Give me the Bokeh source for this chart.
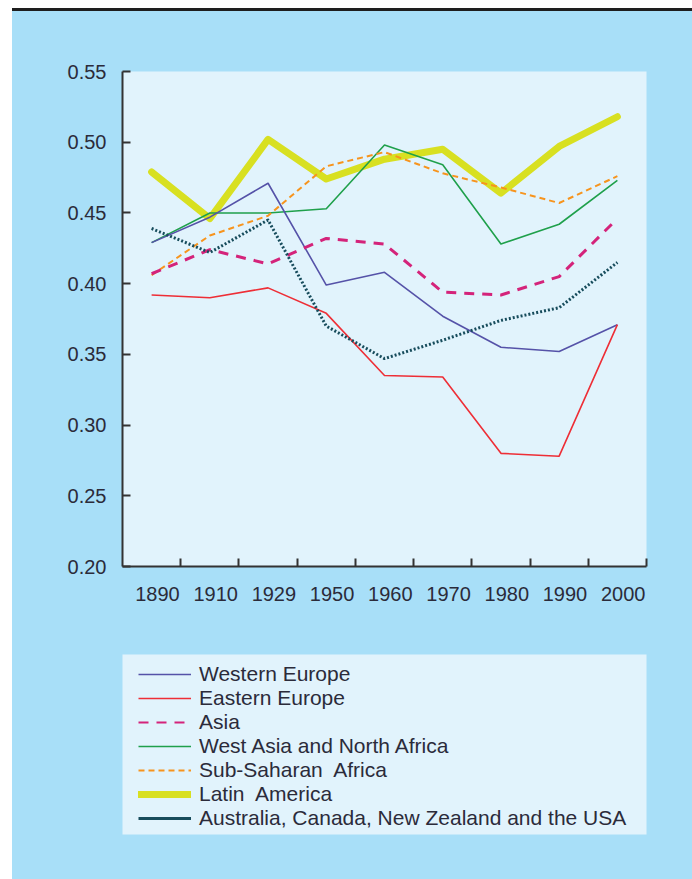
from bokeh.plotting import figure
from bokeh.models import (Range1d, LinearAxis, FixedTicker, CustomJSTickFormatter,
                          NumeralTickFormatter, Legend, LegendItem, Div)
from bokeh.layouts import column
from bokeh.embed import file_html
from bokeh.resources import INLINE

# ---------------- data ----------------
years = ["1890", "1910", "1929", "1950", "1960", "1970", "1980", "1990", "2000"]
western_europe = [0.429, 0.447, 0.471, 0.399, 0.408, 0.377, 0.355, 0.352, 0.371]
eastern_europe = [0.392, 0.390, 0.397, 0.379, 0.335, 0.334, 0.280, 0.278, 0.371]
asia = [0.407, 0.424, 0.414, 0.432, 0.428, 0.394, 0.392, 0.405, 0.446]
west_asia_north_africa = [0.429, 0.450, 0.450, 0.453, 0.498, 0.484, 0.428, 0.442, 0.473]
sub_saharan_africa = [0.406, 0.434, 0.448, 0.483, 0.493, 0.478, 0.468, 0.457, 0.476]
latin_america = [0.479, 0.446, 0.502, 0.474, 0.488, 0.495, 0.464, 0.497, 0.518]
aus_can_nz_usa = [0.439, 0.422, 0.445, 0.370, 0.347, 0.360, 0.374, 0.383, 0.415]
y_ticks = [0.20, 0.25, 0.30, 0.35, 0.40, 0.45, 0.50, 0.55]

names = ["Western Europe", "Eastern Europe", "Asia", "West Asia and North Africa",
         "Sub-Saharan  Africa", "Latin  America", "Australia, Canada, New Zealand and the USA"]

# ---------------- style ----------------
BLUE = "#a8dff8"
LIGHT = "#e1f3fc"
TEXT = "#2b2b3a"
AXIS = "#333333"
FONT = "Liberation Sans"

styles = {
    "Western Europe": dict(line_color="#5552a8", line_width=1.6, line_dash="solid"),
    "Eastern Europe": dict(line_color="#ee2e36", line_width=1.6, line_dash="solid"),
    "Asia": dict(line_color="#d4237a", line_width=3, line_dash="10 8"),
    "West Asia and North Africa": dict(line_color="#1fa04b", line_width=1.6, line_dash="solid"),
    "Sub-Saharan  Africa": dict(line_color="#f7941d", line_width=2, line_dash="6 4"),
    "Latin  America": dict(line_color="#d8e021", line_width=7, line_dash="solid", line_cap="round"),
    "Australia, Canada, New Zealand and the USA": dict(line_color="#174c5c", line_width=3, line_dash="2 2"),
}
series = dict(zip(names, [western_europe, eastern_europe, asia, west_asia_north_africa,
                          sub_saharan_africa, latin_america, aus_can_nz_usa]))

xpos = [i + 0.5 for i in range(len(years))]

# ---------------- chart ----------------
p = figure(width=680, height=629, x_range=Range1d(0, len(years)), y_range=Range1d(0.20, 0.55),
           x_axis_type=None, y_axis_type=None, output_backend="svg", toolbar_location=None,
           min_border_left=110, min_border_right=46, min_border_top=60, min_border_bottom=74)
p.background_fill_color = LIGHT
p.border_fill_color = BLUE
p.outline_line_color = None

yaxis = LinearAxis(ticker=FixedTicker(ticks=y_ticks, minor_ticks=[]),
                   formatter=NumeralTickFormatter(format="0.00"))
yaxis.axis_line_color = AXIS
yaxis.axis_line_width = 2
yaxis.major_tick_in = 8
yaxis.major_tick_out = 0
yaxis.major_tick_line_color = AXIS
yaxis.major_tick_line_width = 2
yaxis.minor_tick_line_color = None
yaxis.major_label_text_font = FONT
yaxis.major_label_text_font_size = "20px"
yaxis.major_label_text_color = TEXT
yaxis.major_label_standoff = 16
p.add_layout(yaxis, "left")

# labels sit near category centres; tick marks (minor ticks) at category boundaries
xaxis = LinearAxis(
    ticker=FixedTicker(ticks=[i + 0.6 for i in range(len(years))],
                       minor_ticks=[i + 1 for i in range(len(years))]),
    formatter=CustomJSTickFormatter(args=dict(labels=years),
                                    code="return labels[Math.round(tick - 0.6)];"))
xaxis.axis_line_color = AXIS
xaxis.axis_line_width = 2
xaxis.major_tick_in = 0
xaxis.major_tick_out = 0
xaxis.major_tick_line_color = None
xaxis.minor_tick_in = 8
xaxis.minor_tick_out = 0
xaxis.minor_tick_line_color = AXIS
xaxis.minor_tick_line_width = 2
xaxis.major_label_text_font = FONT
xaxis.major_label_text_font_size = "20px"
xaxis.major_label_text_color = TEXT
xaxis.major_label_standoff = 20
p.add_layout(xaxis, "below")

draw_order = ["Latin  America", "West Asia and North Africa", "Sub-Saharan  Africa",
              "Western Europe", "Eastern Europe", "Asia",
              "Australia, Canada, New Zealand and the USA"]
for n in draw_order:
    st = dict(styles[n])
    st.setdefault("line_cap", "butt")
    p.line(xpos, series[n], line_join="round", **st)

# ---------------- legend panel ----------------
# the series are repeated here only to feed the legend; the panel's ranges keep them out of view
p2 = figure(width=680, height=239, x_range=Range1d(-3, -2), y_range=Range1d(-3, -2),
            x_axis_type=None, y_axis_type=None, output_backend="svg", toolbar_location=None,
            min_border_left=109, min_border_right=46, min_border_top=14, min_border_bottom=45)
p2.background_fill_color = LIGHT
p2.border_fill_color = BLUE
p2.outline_line_color = None

items = []
for n in names:
    st = dict(styles[n])
    if n.startswith("Australia"):
        st["line_dash"] = "solid"
    if n == "Asia":
        st["line_width"] = 2
    st.setdefault("line_cap", "butt")
    r = p2.line(xpos, series[n], **st)
    items.append(LegendItem(label=n, renderers=[r]))

legend = Legend(items=items, location=(16, 4), padding=0, margin=0, spacing=0,
                label_height=24, glyph_height=24, glyph_width=53, label_standoff=8,
                border_line_color=None, background_fill_alpha=0,
                label_text_font=FONT, label_text_font_size="21px", label_text_color=TEXT)
p2.add_layout(legend)

top_rule = Div(width=680, height=3, margin=0, styles={"background-color": "#1e1e1e"})

layout = column(top_rule, p, p2, margin=(8, 0, 0, 12), spacing=0,
                styles={"background-color": BLUE})

open("out.html", "w").write(file_html(layout, INLINE))
